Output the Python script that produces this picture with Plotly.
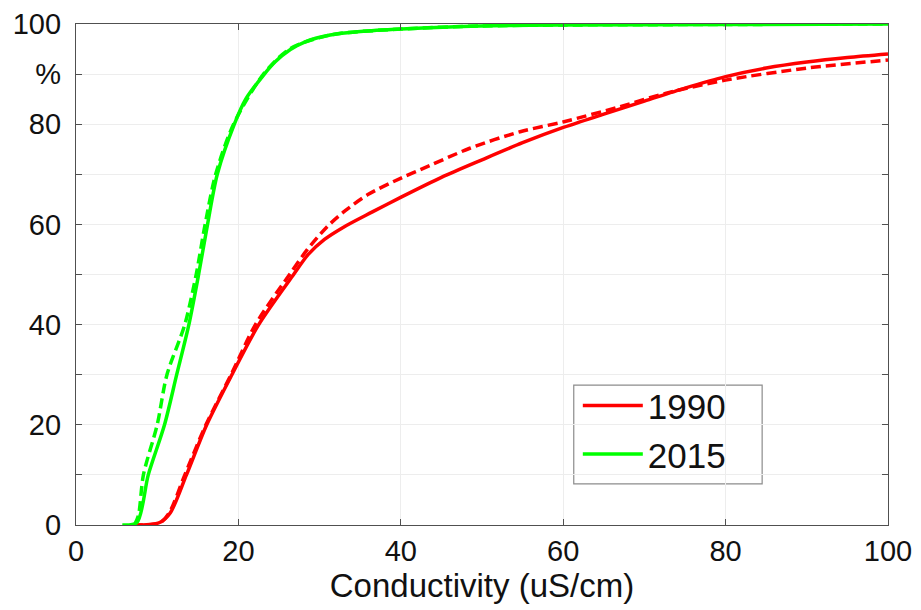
import plotly.graph_objects as go

# ---- data ----
red_solid_x = [7.0, 10.3, 11.6, 13.6, 16.1, 19.2, 22.5, 26.8, 28.6, 30.6, 33.0, 36.5, 40.1, 45.0, 50.0, 55.0, 60.1, 65.0, 70.0, 75.0, 80.0, 85.0, 90.0, 95.0, 100.0]
red_solid_y = [0.0, 0.5, 2.4, 10.0, 20.0, 30.0, 40.0, 50.0, 54.0, 57.0, 59.5, 62.5, 65.5, 69.4, 72.9, 76.3, 79.4, 82.0, 84.6, 87.2, 89.5, 91.2, 92.4, 93.3, 94.0]

red_dash_x = [7.0, 10.3, 11.5, 13.4, 16.0, 19.1, 22.1, 26.3, 28.5, 30.9, 33.2, 36.0, 40.1, 42.4, 48.5, 54.7, 60.1, 67.0, 72.7, 80.0, 90.0, 100.0]
red_dash_y = [0.0, 0.4, 2.5, 10.0, 20.0, 30.0, 40.0, 50.0, 55.0, 59.5, 62.8, 66.0, 69.3, 70.9, 75.2, 78.5, 80.5, 83.5, 86.2, 88.8, 91.2, 92.8]

green_solid_x = [5.7, 7.5, 8.9, 10.9, 12.4, 13.9, 15.1, 16.2, 17.4, 19.5, 20.9, 23.1, 24.5, 26.4, 28.3, 31.3, 35.0, 40.1, 49.8, 60.0, 80.0, 100.0]
green_solid_y = [0.0, 0.5, 10.0, 20.0, 30.0, 40.0, 50.0, 60.0, 70.0, 80.0, 85.0, 89.8, 92.4, 94.9, 96.5, 97.8, 98.5, 99.0, 99.6, 99.8, 99.9, 100.0]

green_dash_x = [7.2, 7.7, 8.3, 10.0, 11.2, 13.4, 14.8, 15.9, 17.2, 19.4, 23.0, 26.3, 31.3, 40.1, 49.8, 60.0, 80.0, 100.0]
green_dash_y = [0.0, 2.0, 10.0, 20.0, 30.0, 40.0, 50.0, 60.0, 70.0, 80.0, 89.8, 95.0, 97.8, 99.0, 99.6, 99.8, 99.9, 100.0]

series_names = ["1990", "2015"]
x_tick_vals = [0, 20, 40, 60, 80, 100]
x_tick_text = ["0", "20", "40", "60", "80", "100"]
y_tick_vals = [0, 10, 20, 30, 40, 50, 60, 70, 80, 90, 100]
y_tick_text = ["0", "", "20", "", "40", "", "60", "", "80", "%", "100"]

RED = "#ff0000"
GREEN = "#00ff00"
FONT = "Liberation Sans, Arial, Helvetica, sans-serif"
SMOOTH = 0.8

fig = go.Figure()
fig.add_trace(go.Scatter(x=red_dash_x, y=red_dash_y, mode="lines", showlegend=False,
                         line=dict(color=RED, width=3.5, dash="10px,5px", shape="spline", smoothing=SMOOTH)))
fig.add_trace(go.Scatter(x=green_dash_x, y=green_dash_y, mode="lines", showlegend=False,
                         line=dict(color=GREEN, width=3.5, dash="10px,5px", shape="spline", smoothing=SMOOTH)))
fig.add_trace(go.Scatter(x=red_solid_x, y=red_solid_y, mode="lines", name=series_names[0],
                         line=dict(color=RED, width=3.5, shape="spline", smoothing=SMOOTH)))
fig.add_trace(go.Scatter(x=green_solid_x, y=green_solid_y, mode="lines", name=series_names[1],
                         line=dict(color=GREEN, width=3.5, shape="spline", smoothing=SMOOTH)))

# legend box drawn as a shape
fig.add_shape(type="rect", xref="paper", yref="paper",
              x0=0.613, x1=0.845, y0=0.082, y1=0.279,
              line=dict(color="#8c8c8c", width=1.2), fillcolor="white", layer="below")

axis_common = dict(
    showline=True, linecolor="#505050", linewidth=1.3, mirror="ticks",
    ticks="inside", ticklen=6, tickwidth=1.3, tickcolor="#505050",
    showgrid=True, gridcolor="#ededed", gridwidth=1, zeroline=False,
    tickfont=dict(family=FONT, size=29, color="#111111"),
)

fig.update_xaxes(range=[0, 100], tickmode="array", tickvals=x_tick_vals, ticktext=x_tick_text,
                 title=dict(text="Conductivity (uS/cm)", font=dict(family=FONT, size=33, color="#111111"),
                            standoff=0),
                 **axis_common)
fig.update_yaxes(range=[0, 100], tickmode="array", tickvals=y_tick_vals, ticktext=y_tick_text,
                 ticklabelstandoff=8, **axis_common)

fig.update_layout(
    width=921, height=610,
    margin=dict(l=76, r=33, t=24, b=85, autoexpand=False),
    paper_bgcolor="white", plot_bgcolor="white",
    font=dict(family=FONT, color="#111111"),
    legend=dict(x=0.618, y=0.297, xanchor="left", yanchor="top",
                bgcolor="rgba(0,0,0,0)", borderwidth=0,
                font=dict(family=FONT, size=35, color="#111111"),
                itemwidth=60, tracegroupgap=0),
)

fig.write_html("out.html")
